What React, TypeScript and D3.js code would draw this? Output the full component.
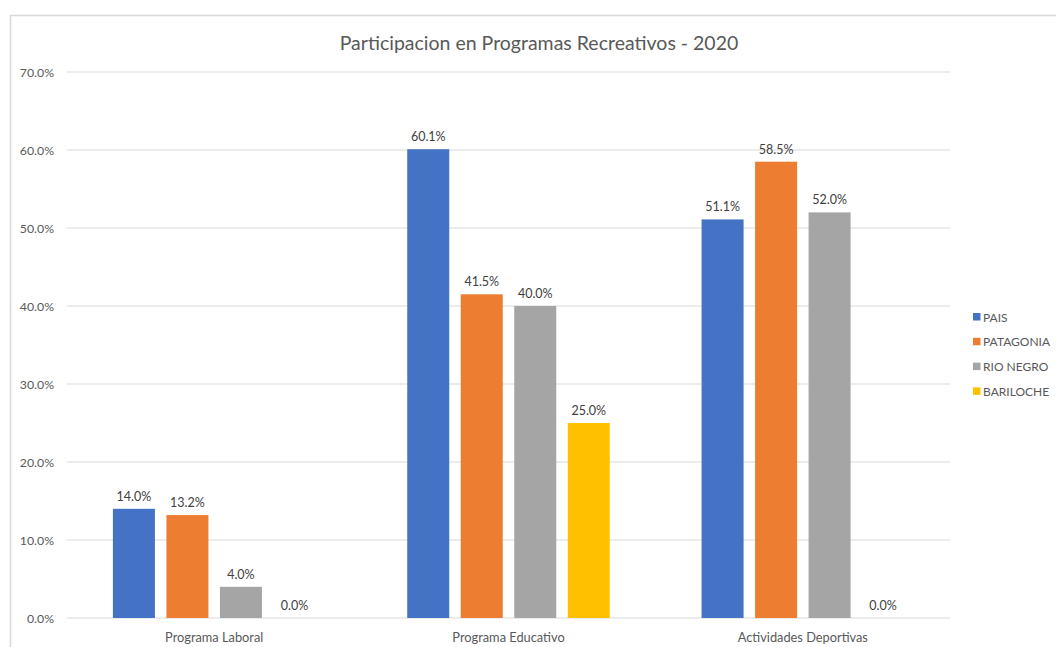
import React from 'react';
import * as d3 from 'd3';

const categories = ['Programa Laboral', 'Programa Educativo', 'Actividades Deportivas'];
const seriesNames = ['PAIS', 'PATAGONIA', 'RIO NEGRO', 'BARILOCHE'];
const pais = [14.0, 60.1, 51.1];
const patagonia = [13.2, 41.5, 58.5];
const rioNegro = [4.0, 40.0, 52.0];
const bariloche = [0.0, 25.0, 0.0];
const yTicks = [0, 10, 20, 30, 40, 50, 60, 70];
const colors = ['#4472C4', '#ED7D31', '#A5A5A5', '#FFC000'];

const seriesValues = [pais, patagonia, rioNegro, bariloche];
const font = 'Lato, "Open Sans", sans-serif';

export default function App() {
  const width = 1056;
  const height = 647;

  const x0 = d3.scaleBand<string>().domain(categories).range([67, 950]).padding(0);
  const x1 = d3.scaleBand<string>()
    .domain(seriesNames)
    .range([0, x0.bandwidth()])
    .paddingInner(0.215)
    .paddingOuter(0.858);
  const y = d3.scaleLinear().domain([0, 70]).range([618, 72]);

  return (
    <svg width={width} height={height} style={{ position: 'absolute', left: 0, top: 0, background: '#fff' }}>
      <rect x={10.5} y={15.5} width={width + 10} height={height + 10} fill="#fff" stroke="#d9d9d9" strokeWidth={1.5} />
      <text x={539} y={50} textAnchor="middle" fontFamily={font} fontSize={19.5} fill="#595959">
        Participacion en Programas Recreativos - 2020
      </text>

      {yTicks.map(t => (
        <g key={t}>
          <line x1={67} x2={950} y1={y(t)} y2={y(t)} stroke="#d9d9d9" strokeWidth={1} />
          <text x={54} y={y(t) + 4.5} textAnchor="end" fontFamily={font} fontSize={12.3} fill="#595959">
            {t.toFixed(1) + '%'}
          </text>
        </g>
      ))}

      {categories.map((c, ci) => (
        <g key={c} transform={`translate(${x0(c)},0)`}>
          {seriesNames.map((s, si) => {
            const v = seriesValues[si][ci];
            const bx = x1(s) as number;
            return (
              <g key={s}>
                <rect x={bx} y={y(v)} width={x1.bandwidth()} height={y(0) - y(v)} fill={colors[si]} />
                <text x={bx + x1.bandwidth() / 2} y={y(v) - 8} textAnchor="middle" fontFamily={font} fontSize={12.5} fill="#404040">
                  {v.toFixed(1) + '%'}
                </text>
              </g>
            );
          })}
          <text x={x0.bandwidth() / 2} y={642} textAnchor="middle" fontFamily={font} fontSize={12.8} fill="#595959">
            {c}
          </text>
        </g>
      ))}

      {seriesNames.map((s, i) => (
        <g key={s} transform={`translate(973,${317 + i * 24.8})`}>
          <rect x={0} y={-4} width={7.5} height={7.5} fill={colors[i]} />
          <text x={10} y={4.5} fontFamily={font} fontSize={12} fill="#595959">{s}</text>
        </g>
      ))}
    </svg>
  );
}
